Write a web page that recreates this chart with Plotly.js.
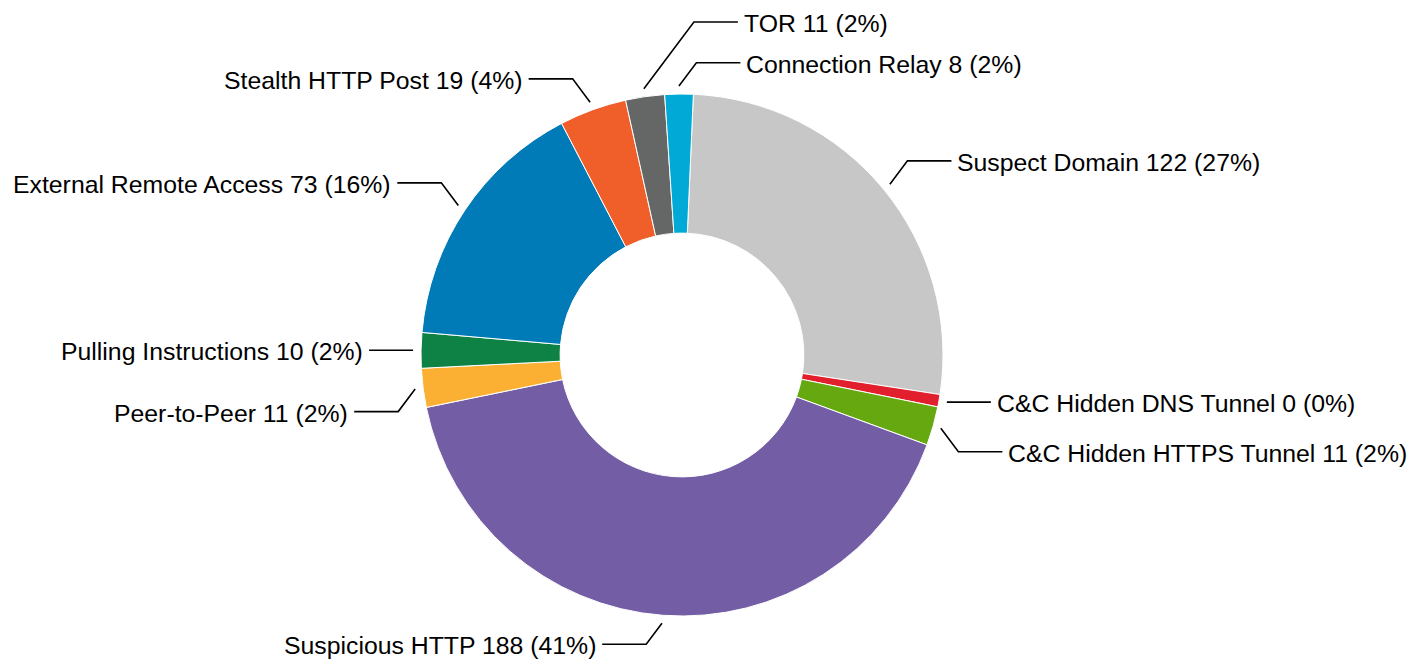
<!DOCTYPE html>
<html>
<head>
<meta charset="utf-8">
<script src="https://cdn.plot.ly/plotly-3.0.1.min.js"></script>
<style>
  html, body { margin: 0; padding: 0; background: #ffffff; }
  #chart { width: 1426px; height: 660px; }
</style>
</head>
<body>
<div id="chart"></div>
<script>
// ---- data ----
const categories = [
  "Suspect Domain",
  "C&C Hidden DNS Tunnel",
  "C&C Hidden HTTPS Tunnel",
  "Suspicious HTTP",
  "Peer-to-Peer",
  "Pulling Instructions",
  "External Remote Access",
  "Stealth HTTP Post",
  "TOR",
  "Connection Relay"
];
const counts   = [122, 0, 11, 188, 11, 10, 73, 19, 11, 8];
const percents = [27, 0, 2, 41, 2, 2, 16, 4, 2, 2];
// slice sizes as drawn (the 0-count slice still appears as a thin sliver)
const sliceSizes = [122, 3.5, 11, 188, 11, 10, 73, 19, 11, 8];

// ---- styling / layout config ----
const colors = ["#c8c7c8", "#e21f2c", "#66a80f", "#735ea6", "#fbb034",
                "#0e8144", "#007bb8", "#f05e2a", "#656666", "#00a9d6"];
const labelSide = ["right", "right", "right", "left", "left",
                   "left", "left", "left", "right", "right"];
const labelRise = [-23.4, 0, 23.4, 21, 22.6, 0, -22.7, -23.3, -66.7, -23.3];

const W = 1426, H = 660;
const cx = 682, cy = 355, R = 261, holeFrac = 0.467, rotationDeg = 2.5;
const startGap = 8, horizLen = 44, textGap = 5;
const fontFamily = "Liberation Sans, Arial, Helvetica, sans-serif";
const fontSize = 24.8;

const px = x => x / W;
const py = y => 1 - y / H;

const total = sliceSizes.reduce((a, b) => a + b, 0);
let cum = 0;
const shapes = [];
const annotations = [];
sliceSizes.forEach((v, i) => {
  const midDeg = rotationDeg + (cum + v / 2) / total * 360;
  cum += v;
  const a = midDeg * Math.PI / 180;
  const sx = cx + (R + startGap) * Math.sin(a);
  const sy = cy - (R + startGap) * Math.cos(a);
  const s = labelSide[i] === "right" ? 1 : -1;
  const ex = sx + s * 0.75 * Math.abs(labelRise[i]);
  const ey = sy + labelRise[i];
  const hx = ex + s * horizLen;
  shapes.push({
    type: "path", xref: "paper", yref: "paper",
    path: `M ${px(sx)},${py(sy)} L ${px(ex)},${py(ey)} L ${px(hx)},${py(ey)}`,
    line: { color: "#000000", width: 1.6 }
  });
  annotations.push({
    xref: "paper", yref: "paper",
    x: px(hx + s * textGap), y: py(ey + 1.5),
    xanchor: s > 0 ? "left" : "right", yanchor: "middle",
    text: `${categories[i]} ${counts[i]} (${percents[i]}%)`,
    showarrow: false,
    font: { family: fontFamily, size: fontSize, color: "#000000" },
    borderpad: 0
  });
});

const trace = {
  type: "pie",
  labels: categories,
  values: sliceSizes,
  sort: false,
  direction: "clockwise",
  rotation: rotationDeg,
  hole: holeFrac,
  textinfo: "none",
  hoverinfo: "label",
  marker: { colors: colors, line: { color: "#ffffff", width: 1 } },
  domain: {
    x: [px(cx - R), px(cx + R)],
    y: [py(cy + R), py(cy - R)]
  },
  showlegend: false
};

const layout = {
  width: W, height: H,
  margin: { l: 0, r: 0, t: 0, b: 0 },
  paper_bgcolor: "#ffffff",
  plot_bgcolor: "#ffffff",
  showlegend: false,
  shapes: shapes,
  annotations: annotations
};

Plotly.newPlot("chart", [trace], layout, { displayModeBar: false, staticPlot: true });
</script>
</body>
</html>
